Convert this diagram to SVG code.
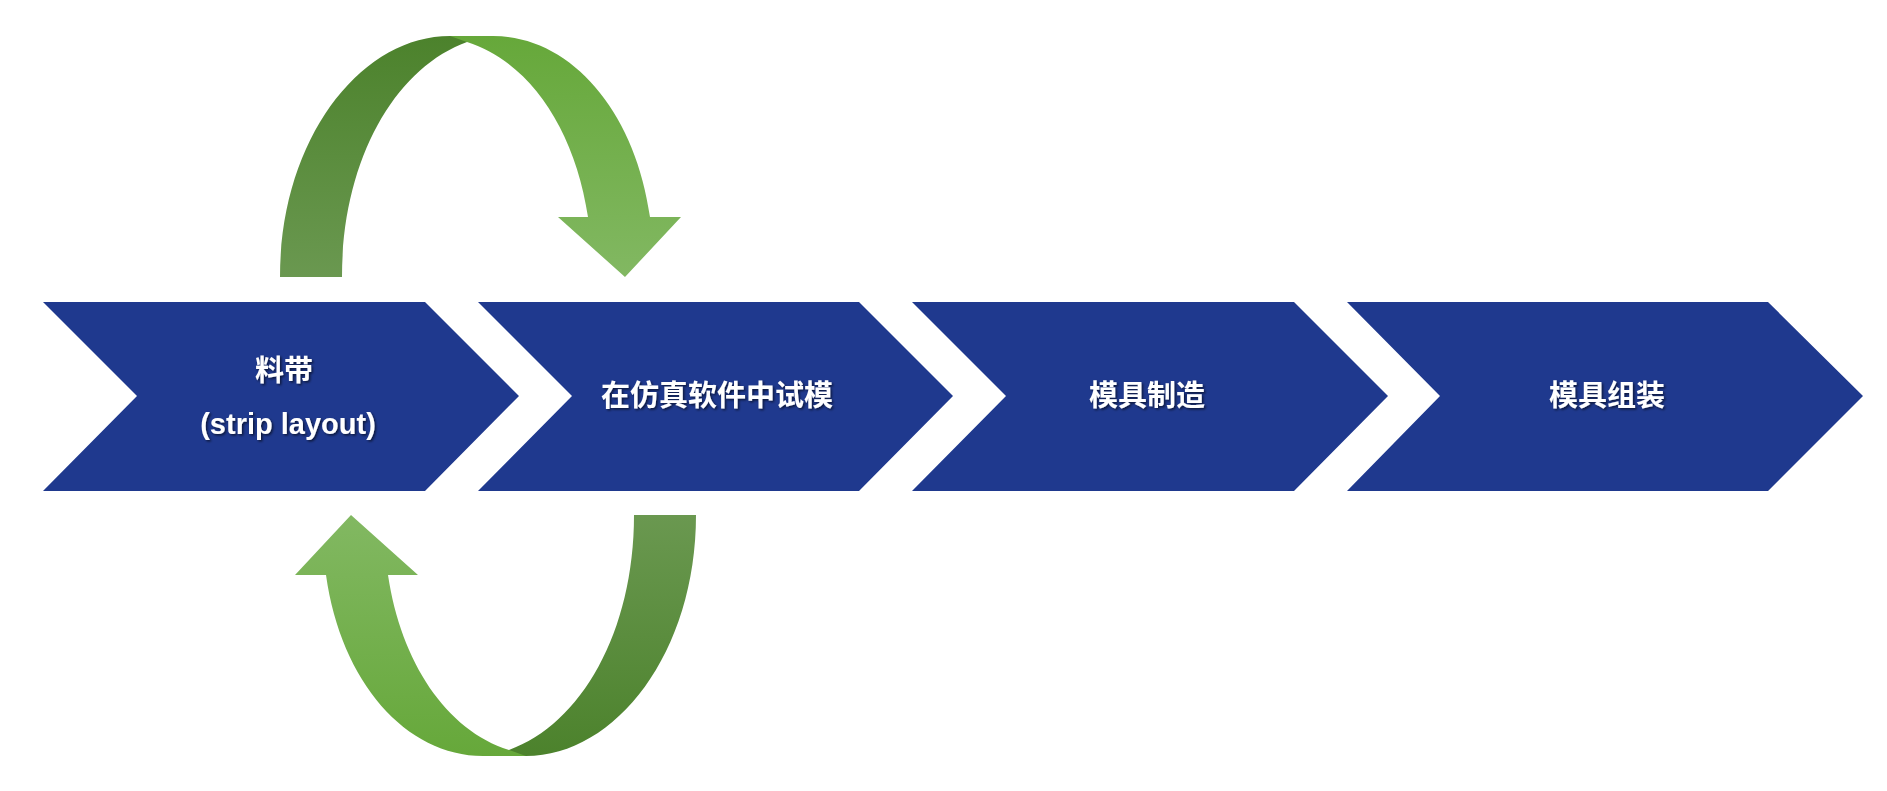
<svg xmlns="http://www.w3.org/2000/svg" width="1887" height="791" viewBox="0 0 1887 791">
<defs>
<linearGradient id="gd" x1="0" y1="0" x2="0" y2="1"><stop offset="0" stop-color="#4c822c"/><stop offset="1" stop-color="#6a9850"/></linearGradient>
<linearGradient id="gl" x1="0" y1="0" x2="0" y2="1"><stop offset="0" stop-color="#66a83a"/><stop offset="1" stop-color="#82b862"/></linearGradient>
<filter id="sh" x="-10%" y="-20%" width="120%" height="140%"><feDropShadow dx="1.5" dy="1.5" stdDeviation="1" flood-color="#000" flood-opacity="0.6"/></filter>
<g id="loop">
<path fill="url(#gd)" d="M280,277 C280,140 360,36 450,36 L493,36 C485,37 474,39 467,42 C395,68 342,160 342,277 Z"/>
<path fill="url(#gl)" d="M450,36 L493,36 C570,36 635,110 650,217 L681,217 L625,277 L558,217 L588,217 C575,130 530,62 467,42 C461,40 456,38 450,36 Z"/>
</g>
</defs>
<style>
.chev{fill:#1f398e}
.t{fill:#fff;font-family:"Liberation Sans","Noto Sans CJK SC",sans-serif;font-weight:bold;font-size:29px;text-anchor:middle;filter:url(#sh)}
</style>
<g id="connectors">
<use href="#loop"/>
<use href="#loop" transform="rotate(180 488 396)"/>
</g>
<g id="n1"><polygon class="chev" points="43,302 425,302 519,396 425,491 43,491 137,396"/>
<text class="t" x="284" y="381">料带</text><text class="t" x="288" y="434" font-size="26">(strip layout)</text></g>
<g id="n2"><polygon class="chev" points="478,302 859,302 953,396 859,491 478,491 572,396"/>
<text class="t" x="717" y="406">在仿真软件中试模</text></g>
<g id="n3"><polygon class="chev" points="912,302 1294,302 1388,396 1294,491 912,491 1006,396"/>
<text class="t" x="1147" y="406">模具制造</text></g>
<g id="n4"><polygon class="chev" points="1347,302 1768,302 1863,396 1768,491 1347,491 1440,396"/>
<text class="t" x="1607" y="406">模具组装</text></g>
</svg>
